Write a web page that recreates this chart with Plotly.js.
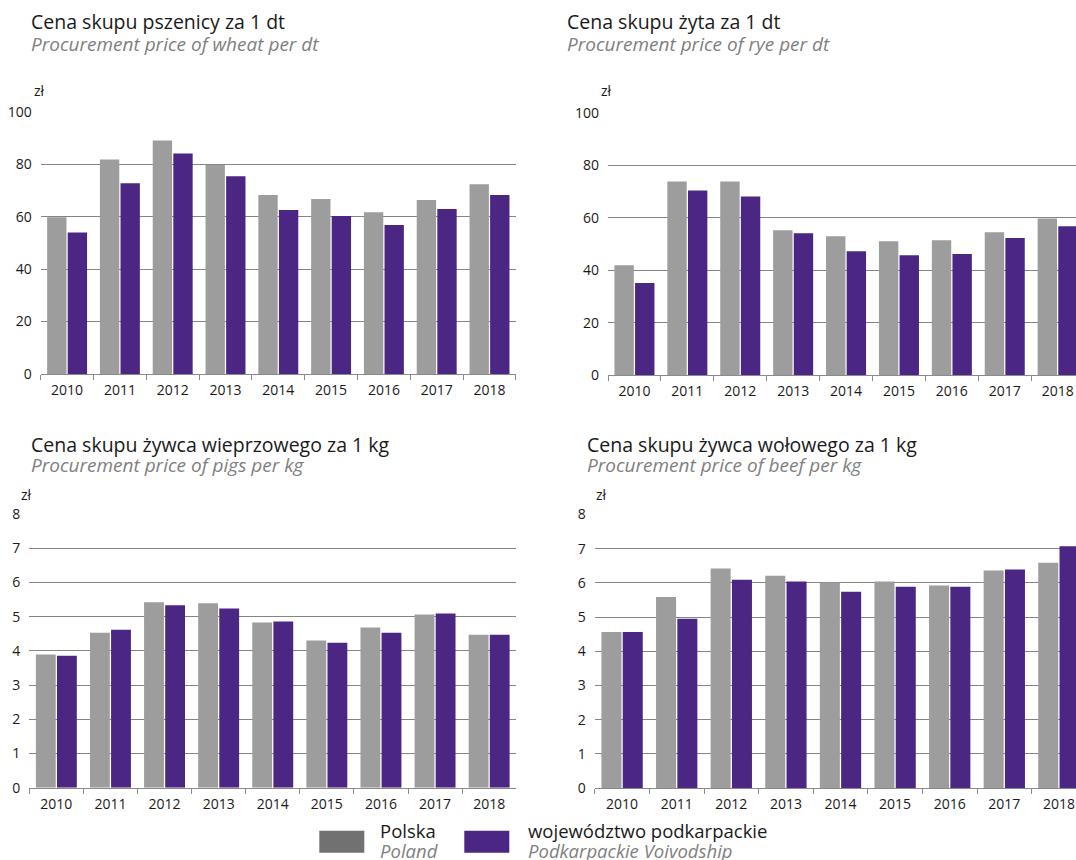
<!DOCTYPE html>
<html>
<head>
<meta charset="utf-8">
<script src="https://cdn.plot.ly/plotly-3.0.1.min.js"></script>
<style>
html,body{margin:0;padding:0;background:#fff;}
#chart{width:1076px;height:860px;}
</style>
</head>
<body>
<div id="chart"></div>
<script>
// ---- data ----
const years = ['2010','2011','2012','2013','2014','2015','2016','2017','2018'];
const wheatPL = [59.8, 81.8, 89.0, 79.8, 68.2, 66.7, 61.7, 66.3, 72.3];
const wheatPK = [53.9, 72.7, 84.1, 75.4, 62.5, 60.2, 56.8, 62.9, 68.2];
const ryePL   = [42.0, 73.9, 73.9, 55.3, 53.0, 51.1, 51.5, 54.5, 59.8];
const ryePK   = [35.2, 70.5, 68.2, 54.2, 47.3, 45.8, 46.2, 52.3, 56.8];
const pigsPL  = [3.89, 4.53, 5.42, 5.39, 4.83, 4.30, 4.68, 5.06, 4.47];
const pigsPK  = [3.86, 4.62, 5.33, 5.24, 4.86, 4.24, 4.53, 5.09, 4.47];
const beefPL  = [4.56, 5.59, 6.42, 6.21, 6.01, 6.04, 5.92, 6.36, 6.59];
const beefPK  = [4.56, 4.95, 6.09, 6.04, 5.74, 5.89, 5.89, 6.39, 7.07];

const titlesPL = ['Cena skupu pszenicy za 1 dt','Cena skupu żyta za 1 dt','Cena skupu żywca wieprzowego za 1 kg','Cena skupu żywca wołowego za 1 kg'];
const titlesEN = ['Procurement price of wheat per dt','Procurement price of rye per dt','Procurement price of pigs per kg','Procurement price of beef per kg'];
const unitLabel = 'zł';
const seriesNames = ['Polska','województwo podkarpackie'];
const seriesNamesEN = ['Poland','Podkarpackie Voivodship'];

// ---- styling ----
const W = 1076, H = 860;
const GRAY = '#9d9d9d', PURPLE = '#4b2682', LEGGRAY = '#717171';
const FONT = 'Open Sans, Noto Sans, sans-serif';
const px = v => v / W;
const py = v => 1 - v / H;

// panel geometry in pixels
const panels = [
  {l:40.7, r:516, t:111.7, b:374,  cw:52.8, ymax:100, dtick:20, tx:29,  ty:22,  sy:43.5, zx:32,  zy:91},
  {l:608,  r:1076,t:113,   b:375.3,cw:52.9, ymax:100, dtick:20, tx:565, ty:22,  sy:43.5, zx:599, zy:91},
  {l:29.3, r:516, t:514,   b:787.7,cw:54.1, ymax:8,   dtick:1,  tx:29,  ty:444, sy:465,  zx:19,  zy:494},
  {l:594.8,r:1076,t:514.5, b:788,  cw:54.6, ymax:8,   dtick:1,  tx:585, ty:444, sy:465,  zx:594, zy:494}
];
const dataPL = [wheatPL, ryePL, pigsPL, beefPL];
const dataPK = [wheatPK, ryePK, pigsPK, beefPK];

const traces = [];
const layout = {
  width: W, height: H,
  margin: {l:0, r:0, t:0, b:0},
  paper_bgcolor: '#fff', plot_bgcolor: '#fff',
  showlegend: false,
  barmode: 'group', bargap: 0.22, bargroupgap: 0.06,
  font: {family: FONT, size: 14, color: '#1a1a1a'},
  annotations: [], shapes: []
};

panels.forEach((p, i) => {
  const n = i === 0 ? '' : String(i + 1);
  const xa = 'x' + n, ya = 'y' + n;
  traces.push({type:'bar', x: years, y: dataPL[i], xaxis: xa, yaxis: ya, marker:{color: GRAY}, name: seriesNames[0], hoverinfo:'y'});
  traces.push({type:'bar', x: years, y: dataPK[i], xaxis: xa, yaxis: ya, marker:{color: PURPLE}, name: seriesNames[1], hoverinfo:'y'});
  const nCats = (p.r - p.l) / p.cw;
  layout['xaxis' + n] = {
    domain: [px(p.l), px(p.r)], anchor: ya,
    type: 'category', range: [-0.5, -0.5 + nCats],
    tickson: 'boundaries', ticks: 'outside', ticklen: 5, tickcolor: '#8a8a8a', tickwidth: 1,
    ticklabelstandoff: 3,
    showline: true, linecolor: '#8a8a8a', linewidth: 1,
    showgrid: false, zeroline: false, fixedrange: true,
    tickfont: {family: FONT, size: 14, color: '#1a1a1a'}
  };
  layout['yaxis' + n] = {
    domain: [py(p.b), py(p.t)], anchor: xa,
    range: [0, p.ymax], dtick: p.dtick, tick0: 0,
    showgrid: true, gridcolor: '#858585', gridwidth: 1,
    zeroline: false, showline: false, ticks: '', ticklabelstandoff: 8,
    fixedrange: true,
    tickfont: {family: FONT, size: 14, color: '#1a1a1a'}
  };
  layout.annotations.push({xref:'paper', yref:'paper', x: px(p.tx), y: py(p.ty), xanchor:'left', yanchor:'middle', showarrow:false,
    text: titlesPL[i], font:{family: FONT, size: 19.5, color:'#1a1a1a'}});
  layout.annotations.push({xref:'paper', yref:'paper', x: px(p.tx), y: py(p.sy), xanchor:'left', yanchor:'middle', showarrow:false,
    text: '<i>' + titlesEN[i] + '</i>', font:{family: FONT, size: 19, color:'#808080'}});
  layout.annotations.push({xref:'paper', yref:'paper', x: px(p.zx), y: py(p.zy), xanchor:'left', yanchor:'middle', showarrow:false,
    text: unitLabel, font:{family: FONT, size: 14, color:'#1a1a1a'}});
});

// legend (bottom)
const legItems = [
  {x0:319.3, x1:364.3, tx:377.7, color: LEGGRAY},
  {x0:464.3, x1:509.3, tx:526,   color: PURPLE}
];
legItems.forEach((it, k) => {
  layout.shapes.push({type:'rect', xref:'paper', yref:'paper', x0: px(it.x0), x1: px(it.x1), y0: py(852.7), y1: py(830.7),
    fillcolor: it.color, line:{width:0}});
  layout.annotations.push({xref:'paper', yref:'paper', x: px(it.tx), y: py(830), xanchor:'left', yanchor:'middle', showarrow:false,
    text: seriesNames[k], font:{family: FONT, size: 18.5, color:'#1a1a1a'}});
  layout.annotations.push({xref:'paper', yref:'paper', x: px(it.tx), y: py(850.5), xanchor:'left', yanchor:'middle', showarrow:false,
    text: '<i>' + seriesNamesEN[k] + '</i>', font:{family: FONT, size: 18.5, color:'#808080'}});
});

Plotly.newPlot('chart', traces, layout, {displayModeBar:false, staticPlot:true});
</script>
</body>
</html>
